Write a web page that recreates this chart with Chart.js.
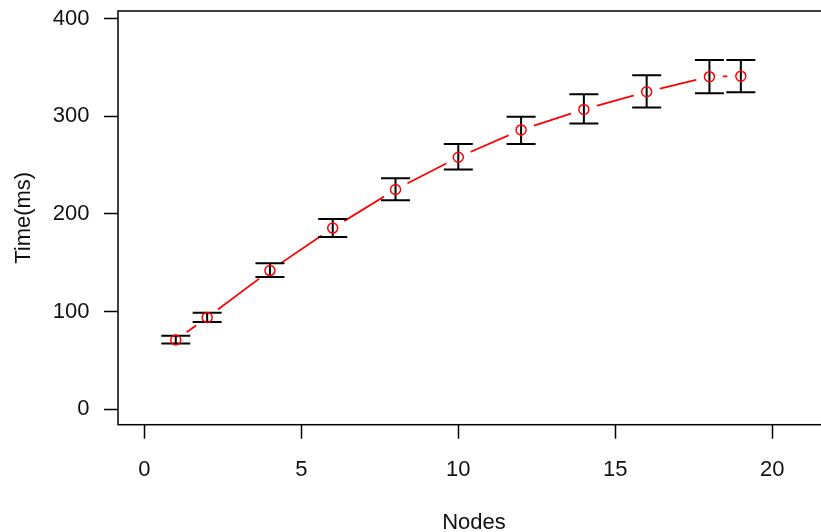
<!DOCTYPE html>
<html>
<head>
<meta charset="utf-8">
<script src="https://cdn.jsdelivr.net/npm/chart.js@4.4.0/dist/chart.umd.min.js"></script>
<style>
  html, body { margin: 0; padding: 0; background: #fff; overflow: hidden; }
  #grafico { display: block; }
</style>
</head>
<body>
<canvas id="grafico" width="830" height="532"></canvas>
<script>
// valores
const nodes = [1, 2, 4, 6, 8, 10, 12, 14, 16, 18, 19];
const tempoMedio = [71, 94, 142, 185.5, 225, 258, 286, 307, 325, 340.5, 341];
const tempoMin = [67.5, 89.5, 135.5, 176.5, 214, 245.5, 271.5, 292.5, 309, 323.5, 324.5];
const tempoMax = [75.3, 99, 149.5, 194.8, 236.5, 271.5, 299.5, 322.5, 342, 357.5, 357.5];
const ticksX = [0, 5, 10, 15, 20];
const ticksY = [0, 100, 200, 300, 400];

const fonte = { family: 'Liberation Sans, Arial, sans-serif', size: 22 };

const pontos = nodes.map((n, i) => ({ x: n, y: tempoMedio[i] }));

// barras de erro desenhadas depois da linha, antes dos círculos
const barrasErro = {
    id: 'barrasErro',
    afterDatasetDraw(chart, args) {
        if (args.index !== 0) return;
        const ctx = chart.ctx;
        const sx = chart.scales.x, sy = chart.scales.y;
        const meia = 14.5;
        ctx.save();
        ctx.strokeStyle = '#000';
        ctx.lineWidth = 2;
        nodes.forEach((n, i) => {
            const px = sx.getPixelForValue(n);
            const y1 = sy.getPixelForValue(tempoMin[i]);
            const y2 = sy.getPixelForValue(tempoMax[i]);
            ctx.beginPath();
            ctx.moveTo(px, y1); ctx.lineTo(px, y2);
            ctx.moveTo(px - meia, y1); ctx.lineTo(px + meia, y1);
            ctx.moveTo(px - meia, y2); ctx.lineTo(px + meia, y2);
            ctx.stroke();
        });
        ctx.restore();
    }
};

const caixa = {
    id: 'caixa',
    afterDraw(chart) {
        const a = chart.chartArea;
        const ctx = chart.ctx;
        ctx.save();
        ctx.strokeStyle = '#000';
        ctx.lineWidth = 1.5;
        ctx.strokeRect(a.left, a.top, a.right - a.left, a.bottom - a.top);
        ctx.restore();
    }
};

new Chart(document.getElementById('grafico'), {
    type: 'line',
    data: {
        datasets: [{
            // linha com falhas em volta dos pontos (tipo "b" do R)
            data: pontos,
            borderColor: '#ff0000',
            borderWidth: 1.8,
            pointRadius: 13.5,
            pointBackgroundColor: '#fff',
            pointBorderWidth: 0,
            pointBorderColor: 'rgba(0,0,0,0)',
            tension: 0,
            order: 1
        }, {
            data: pontos,
            showLine: false,
            pointRadius: 5,
            pointBorderWidth: 1.5,
            pointBorderColor: '#ff0000',
            pointBackgroundColor: 'rgba(0,0,0,0)',
            order: 0
        }]
    },
    options: {
        responsive: false,
        animation: false,
        events: [],
        layout: { autoPadding: false, padding: { top: 11, left: 0, right: 0, bottom: 0 } },
        plugins: { legend: { display: false }, tooltip: { enabled: false } },
        scales: {
            x: {
                type: 'linear',
                min: -0.84,
                max: 21.84,
                afterBuildTicks: s => { s.ticks = ticksX.map(v => ({ value: v })); },
                afterFit: s => { s.height = 107.3; s.paddingLeft = 0; s.paddingRight = 0; },
                border: { display: false },
                grid: { drawOnChartArea: false, drawTicks: true, tickLength: 14, tickColor: '#000', tickWidth: 1.5 },
                ticks: { color: '#111', font: fonte, padding: 18, maxRotation: 0 },
                title: { display: true, text: 'Nodes', color: '#111', font: fonte, padding: { top: 0, bottom: -4 } }
            },
            y: {
                min: -15.7,
                max: 407.7,
                afterBuildTicks: s => { s.ticks = ticksY.map(v => ({ value: v })); },
                afterFit: s => { s.width = 118; s.paddingTop = 0; s.paddingBottom = 0; },
                border: { display: false },
                grid: { drawOnChartArea: false, drawTicks: true, tickLength: 14, tickColor: '#000', tickWidth: 1.5 },
                ticks: { color: '#111', font: fonte, padding: 14.5 },
                title: { display: true, text: 'Time(ms)', color: '#111', font: fonte, padding: { top: 11, bottom: 0 } }
            }
        }
    },
    plugins: [barrasErro, caixa]
});
</script>
</body>
</html>
